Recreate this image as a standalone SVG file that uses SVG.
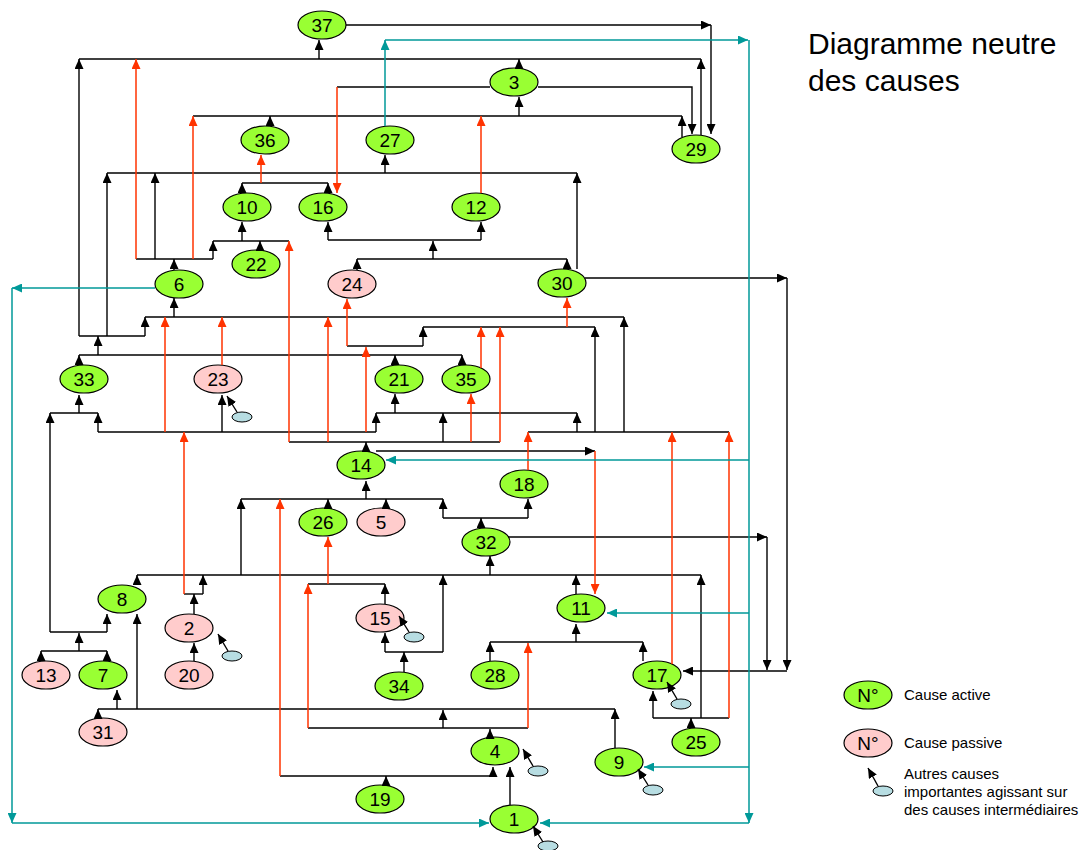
<svg xmlns="http://www.w3.org/2000/svg" width="1087" height="850" viewBox="0 0 1087 850">
<style>
  .n ellipse { stroke: #000; stroke-width: 1.2; }
  .act { fill: #99ff33; }
  .pas { fill: #ffcccc; }
  .ext { fill: #b7dde2; stroke: #000; stroke-width: 1; }
  .n text { font-family: "Liberation Sans", Arial, sans-serif; font-size: 19px; text-anchor: middle; fill: #000; }
  .k path { fill: none; stroke: #000; stroke-width: 1.4; }
  .k path.a { marker-end: url(#ak); }
  .r path { fill: none; stroke: #ff3300; stroke-width: 1.5; marker-end: url(#ar); }
  .t path { fill: none; stroke: #009999; stroke-width: 1.5; marker-end: url(#at); }
  .lbl { font-family: "Liberation Sans", Arial, sans-serif; font-size: 15px; fill: #000; }
  .title { font-family: "Liberation Sans", Arial, sans-serif; font-size: 30px; fill: #000; }
</style>
<defs>
  <marker id="ak" viewBox="0 0 10 9" refX="10" refY="4.5" markerWidth="10" markerHeight="9" markerUnits="userSpaceOnUse" orient="auto"><path d="M0,0 L10,4.5 L0,9 z" fill="#000"/></marker>
  <marker id="ar" viewBox="0 0 10 9" refX="10" refY="4.5" markerWidth="10" markerHeight="9" markerUnits="userSpaceOnUse" orient="auto"><path d="M0,0 L10,4.5 L0,9 z" fill="#ff3300"/></marker>
  <marker id="at" viewBox="0 0 10 9" refX="10" refY="4.5" markerWidth="10" markerHeight="9" markerUnits="userSpaceOnUse" orient="auto"><path d="M0,0 L10,4.5 L0,9 z" fill="#009999"/></marker>
</defs>
<rect width="1087" height="850" fill="#fff"/>

<text class="title" x="808" y="54">Diagramme neutre</text>
<text class="title" x="808" y="91">des causes</text>

<!-- cause nodes -->
<g class="n">
  <g id="n37"><ellipse class="act" cx="322" cy="25" rx="24" ry="14"/><text x="322" y="32">37</text></g>
  <g id="n3"><ellipse class="act" cx="514" cy="82" rx="24" ry="14"/><text x="514" y="89">3</text></g>
  <g id="n36"><ellipse class="act" cx="265" cy="140" rx="24" ry="14"/><text x="265" y="147">36</text></g>
  <g id="n27"><ellipse class="act" cx="390" cy="140" rx="24" ry="14"/><text x="390" y="147">27</text></g>
  <g id="n29"><ellipse class="act" cx="696" cy="149" rx="24" ry="14"/><text x="696" y="156">29</text></g>
  <g id="n10"><ellipse class="act" cx="247" cy="207" rx="24" ry="14"/><text x="247" y="214">10</text></g>
  <g id="n16"><ellipse class="act" cx="323" cy="207" rx="24" ry="14"/><text x="323" y="214">16</text></g>
  <g id="n12"><ellipse class="act" cx="476" cy="207" rx="24" ry="14"/><text x="476" y="214">12</text></g>
  <g id="n22"><ellipse class="act" cx="256" cy="264" rx="24" ry="14"/><text x="256" y="271">22</text></g>
  <g id="n6"><ellipse class="act" cx="179" cy="284" rx="24" ry="14"/><text x="179" y="291">6</text></g>
  <g id="n24"><ellipse class="pas" cx="352" cy="284" rx="24" ry="14"/><text x="352" y="291">24</text></g>
  <g id="n30"><ellipse class="act" cx="562" cy="283" rx="24" ry="14"/><text x="562" y="290">30</text></g>
  <g id="n33"><ellipse class="act" cx="84" cy="379" rx="24" ry="14"/><text x="84" y="386">33</text></g>
  <g id="n23"><ellipse class="pas" cx="218" cy="379" rx="24" ry="14"/><text x="218" y="386">23</text></g>
  <g id="n21"><ellipse class="act" cx="399" cy="379" rx="24" ry="14"/><text x="399" y="386">21</text></g>
  <g id="n35"><ellipse class="act" cx="466" cy="379" rx="24" ry="14"/><text x="466" y="386">35</text></g>
  <g id="n14"><ellipse class="act" cx="361" cy="465" rx="24" ry="14"/><text x="361" y="472">14</text></g>
  <g id="n18"><ellipse class="act" cx="524" cy="484" rx="24" ry="14"/><text x="524" y="491">18</text></g>
  <g id="n26"><ellipse class="act" cx="323" cy="522" rx="24" ry="14"/><text x="323" y="529">26</text></g>
  <g id="n5"><ellipse class="pas" cx="381" cy="522" rx="24" ry="14"/><text x="381" y="529">5</text></g>
  <g id="n32"><ellipse class="act" cx="486" cy="542" rx="24" ry="14"/><text x="486" y="549">32</text></g>
  <g id="n8"><ellipse class="act" cx="122" cy="599" rx="24" ry="14"/><text x="122" y="606">8</text></g>
  <g id="n2"><ellipse class="pas" cx="189" cy="628" rx="24" ry="14"/><text x="189" y="635">2</text></g>
  <g id="n15"><ellipse class="pas" cx="380" cy="618" rx="24" ry="14"/><text x="380" y="625">15</text></g>
  <g id="n11"><ellipse class="act" cx="581" cy="608" rx="24" ry="14"/><text x="581" y="615">11</text></g>
  <g id="n13"><ellipse class="pas" cx="46" cy="675" rx="24" ry="14"/><text x="46" y="682">13</text></g>
  <g id="n7"><ellipse class="act" cx="103" cy="675" rx="24" ry="14"/><text x="103" y="682">7</text></g>
  <g id="n20"><ellipse class="pas" cx="189" cy="675" rx="24" ry="14"/><text x="189" y="682">20</text></g>
  <g id="n34"><ellipse class="act" cx="399" cy="686" rx="24" ry="14"/><text x="399" y="693">34</text></g>
  <g id="n28"><ellipse class="act" cx="495" cy="675" rx="24" ry="14"/><text x="495" y="682">28</text></g>
  <g id="n17"><ellipse class="act" cx="657" cy="675" rx="24" ry="14"/><text x="657" y="682">17</text></g>
  <g id="n31"><ellipse class="pas" cx="103" cy="732" rx="24" ry="14"/><text x="103" y="739">31</text></g>
  <g id="n25"><ellipse class="act" cx="696" cy="742" rx="24" ry="14"/><text x="696" y="749">25</text></g>
  <g id="n4"><ellipse class="act" cx="495" cy="751" rx="24" ry="14"/><text x="495" y="758">4</text></g>
  <g id="n9"><ellipse class="act" cx="619" cy="762" rx="24" ry="14"/><text x="619" y="769">9</text></g>
  <g id="n19"><ellipse class="act" cx="380" cy="799" rx="24" ry="14"/><text x="380" y="806">19</text></g>
  <g id="n1"><ellipse class="act" cx="514" cy="819" rx="24" ry="14"/><text x="514" y="826">1</text></g>
</g>

<!-- other causes acting on intermediate causes -->
<g id="others">
  <ellipse class="ext" cx="242" cy="417" rx="10" ry="5"/>
  <ellipse class="ext" cx="232" cy="656" rx="10" ry="5"/>
  <ellipse class="ext" cx="414" cy="637" rx="10" ry="5"/>
  <ellipse class="ext" cx="538" cy="771" rx="10" ry="5"/>
  <ellipse class="ext" cx="548" cy="846" rx="10" ry="5"/>
  <ellipse class="ext" cx="681" cy="704" rx="10" ry="5"/>
  <ellipse class="ext" cx="653" cy="790" rx="10" ry="5"/>
</g>

<!-- connectors -->
<g id="connectors">
  <g class="k">
    <!-- trunk lines -->
    <path d="M79,59 H701"/>
    <path d="M490,87 H337"/>
    <path d="M193,116 H682"/>
    <path d="M107,173 H577"/>
    <path d="M242,183 H328"/>
    <path d="M213,241 H289"/>
    <path d="M136,259 H213"/>
    <path d="M328,240 H481"/>
    <path d="M357,259 H567"/>
    <path d="M145,317 H624"/>
    <path d="M79,336 H145"/>
    <path d="M79,355 H462"/>
    <path d="M50,413 H98"/>
    <path d="M98,432 H376"/>
    <path d="M376,413 H577"/>
    <path d="M289,442 H500"/>
    <path d="M347,346 H423"/>
    <path d="M423,327 H595"/>
    <path d="M528,432 H729"/>
    <path d="M241,499 H443"/>
    <path d="M443,518 H528"/>
    <path d="M308,584 H385"/>
    <path d="M308,728 H528"/>
    <path d="M98,709 H615"/>
    <path d="M137,575 H701"/>
    <path d="M184,594 H203"/>
    <path d="M385,652 H443"/>
    <path d="M490,642 H643"/>
    <path d="M653,718 H729"/>
    <path d="M280,776 H493"/>
    <path d="M50,632 H107"/>
    <path d="M41,651 H107"/>
    <!-- arrows -->
    <path class="a" d="M346,25 H711"/>
    <path class="a" d="M711,25 V134"/>
    <path class="a" d="M319,59 V40"/>
    <path class="a" d="M79,336 V59"/>
    <path class="a" d="M701,135 V59"/>
    <path class="a" d="M519,68 V59"/>
    <path class="a" d="M538,87 H692 V134"/>
    <path class="a" d="M682,137 V116"/>
    <path class="a" d="M270,126 V116"/>
    <path class="a" d="M519,116 V97"/>
    <path class="a" d="M107,336 V173"/>
    <path class="a" d="M155,259 V173"/>
    <path class="a" d="M577,269 V173"/>
    <path class="a" d="M385,173 V155"/>
    <path class="a" d="M242,193 V183"/>
    <path class="a" d="M328,193 V183"/>
    <path class="a" d="M242,241 V222"/>
    <path class="a" d="M213,259 V241"/>
    <path class="a" d="M260,250 V241"/>
    <path class="a" d="M174,270 V259"/>
    <path class="a" d="M328,240 V222"/>
    <path class="a" d="M481,240 V222"/>
    <path class="a" d="M433,259 V241"/>
    <path class="a" d="M357,270 V259"/>
    <path class="a" d="M567,269 V259"/>
    <path class="a" d="M585,278 H787"/>
    <path class="a" d="M787,278 V670"/>
    <path class="a" d="M787,671 H683"/>
    <path class="a" d="M767,537 V670"/>
    <path class="a" d="M508,537 H767"/>
    <path class="a" d="M174,317 V298"/>
    <path class="a" d="M145,336 V317"/>
    <path class="a" d="M624,432 V317"/>
    <path class="a" d="M98,355 V336"/>
    <path class="a" d="M79,365 V355"/>
    <path class="a" d="M395,365 V355"/>
    <path class="a" d="M462,365 V355"/>
    <path class="a" d="M79,413 V395"/>
    <path class="a" d="M50,632 V413"/>
    <path class="a" d="M98,432 V413"/>
    <path class="a" d="M376,432 V413"/>
    <path class="a" d="M222,432 V395"/>
    <path class="a" d="M395,413 V394"/>
    <path class="a" d="M443,442 V413"/>
    <path class="a" d="M577,432 V413"/>
    <path class="a" d="M366,451 V442"/>
    <path class="a" d="M423,346 V327"/>
    <path class="a" d="M595,432 V327"/>
    <path class="a" d="M376,451 H595"/>
    <path class="a" d="M366,499 V481"/>
    <path class="a" d="M241,575 V499"/>
    <path class="a" d="M328,508 V499"/>
    <path class="a" d="M386,508 V499"/>
    <path class="a" d="M443,518 V499"/>
    <path class="a" d="M528,518 V499"/>
    <path class="a" d="M481,528 V518"/>
    <path class="a" d="M385,604 V584"/>
    <path class="a" d="M443,728 V710"/>
    <path class="a" d="M490,737 V729"/>
    <path class="a" d="M98,719 V709"/>
    <path class="a" d="M117,709 V690"/>
    <path class="a" d="M137,709 V614"/>
    <path class="a" d="M615,748 V709"/>
    <path class="a" d="M137,585 V575"/>
    <path class="a" d="M203,594 V575"/>
    <path class="a" d="M443,652 V575"/>
    <path class="a" d="M490,575 V556"/>
    <path class="a" d="M576,594 V575"/>
    <path class="a" d="M701,718 V575"/>
    <path class="a" d="M194,614 V594"/>
    <path class="a" d="M194,661 V643"/>
    <path class="a" d="M385,652 V633"/>
    <path class="a" d="M404,672 V652"/>
    <path class="a" d="M576,642 V624"/>
    <path class="a" d="M490,661 V642"/>
    <path class="a" d="M643,661 V642"/>
    <path class="a" d="M653,718 V691"/>
    <path class="a" d="M691,728 V718"/>
    <path class="a" d="M493,776 V767"/>
    <path class="a" d="M386,786 V776"/>
    <path class="a" d="M510,805 V767"/>
    <path class="a" d="M107,632 V614"/>
    <path class="a" d="M79,651 V633"/>
    <path class="a" d="M41,661 V651"/>
    <path class="a" d="M107,661 V651"/>
    <!-- other causes -->
    <path class="a" d="M237,412 L227,396"/>
    <path class="a" d="M228,651 L218,634"/>
    <path class="a" d="M409,632 L399,616"/>
    <path class="a" d="M533,766 L523,749"/>
    <path class="a" d="M543,842 L533,826"/>
    <path class="a" d="M677,699 L667,682"/>
    <path class="a" d="M648,785 L638,769"/>
  </g>
  <g class="r">
    <path d="M337,87 V193"/>
    <path d="M481,193 V116"/>
    <path d="M193,259 V116"/>
    <path d="M136,259 V59"/>
    <path d="M261,183 V155"/>
    <path d="M289,442 V241"/>
    <path d="M165,432 V317"/>
    <path d="M222,365 V317"/>
    <path d="M328,442 V317"/>
    <path d="M366,432 V347"/>
    <path d="M471,442 V394"/>
    <path d="M500,442 V327"/>
    <path d="M347,346 V299"/>
    <path d="M481,368 V327"/>
    <path d="M567,327 V298"/>
    <path d="M528,470 V432"/>
    <path d="M672,664 V432"/>
    <path d="M729,718 V432"/>
    <path d="M595,451 V594"/>
    <path d="M280,776 V499"/>
    <path d="M328,584 V537"/>
    <path d="M308,728 V584"/>
    <path d="M528,728 V643"/>
    <path d="M184,594 V432"/>
  </g>
  <g class="t">
    <path d="M385,126 V40"/>
    <path d="M385,40 H748"/>
    <path d="M749,40 V823"/>
    <path d="M749,823 H540"/>
    <path d="M749,460 H386"/>
    <path d="M749,613 H607"/>
    <path d="M749,767 H644"/>
    <path d="M155,288 H12"/>
    <path d="M12,288 V823"/>
    <path d="M12,823 H489"/>
  </g>
</g>

<!-- legend -->
<g id="legend">
  <g class="n" id="leg-active"><ellipse class="act" cx="868" cy="695" rx="24" ry="14"/><text x="868" y="702">N°</text></g>
  <text class="lbl" x="904" y="700">Cause active</text>
  <g class="n" id="leg-passive"><ellipse class="pas" cx="868" cy="743" rx="24" ry="14"/><text x="868" y="750">N°</text></g>
  <text class="lbl" x="904" y="748">Cause passive</text>
  <ellipse class="ext" cx="883" cy="791" rx="10" ry="5"/>
  <path d="M878,786 L868,768" fill="none" stroke="#000" stroke-width="1.4" marker-end="url(#ak)"/>
  <text class="lbl" x="904" y="779">Autres causes</text>
  <text class="lbl" x="904" y="797">importantes agissant sur</text>
  <text class="lbl" x="904" y="815">des causes intermédiaires</text>
</g>
</svg>
